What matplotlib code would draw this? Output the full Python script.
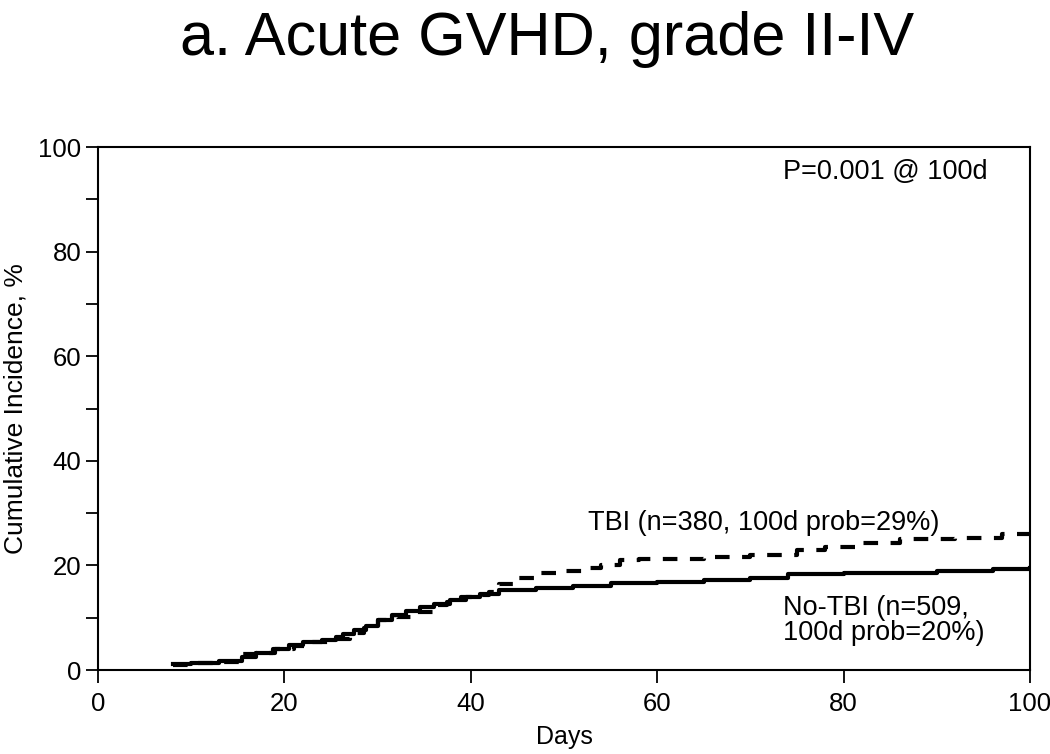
import matplotlib
matplotlib.use("Agg")
import matplotlib.pyplot as plt

plt.rcParams['font.family'] = ['Liberation Sans', 'DejaVu Sans']

# No-TBI (solid) cumulative incidence, %
notbi_days = [8, 10, 13, 15.5, 17, 18.8, 20.5, 22, 24, 25.5, 26.3, 27.5, 28.8, 30, 31.5,
              33, 34.5, 36, 37.8, 39.5, 41, 43, 47, 51, 55, 60, 65, 70, 74, 80, 90, 96, 100]
notbi_ci = [1.1, 1.4, 1.7, 2.4, 3.3, 4.0, 4.8, 5.3, 5.8, 6.3, 6.9, 7.6, 8.4, 9.6, 10.6,
            11.3, 12.0, 12.6, 13.3, 14.0, 14.6, 15.3, 15.6, 16.1, 16.6, 16.9, 17.2, 17.6, 18.3,
            18.6, 19.0, 19.3, 19.5]

# TBI (dashed)
tbi_days = [8, 10, 13, 15.5, 17, 19, 21, 23, 25, 27, 28.5, 30, 32, 34, 36, 37.5, 39, 40.5,
            42, 43, 45, 47, 50, 52, 54, 56, 58, 65, 70, 75, 78, 82, 86, 92, 97, 100]
tbi_ci = [1.0, 1.3, 1.6, 3.0, 3.3, 4.0, 4.6, 5.4, 6.0, 7.0, 8.0, 9.6, 10.2, 11.0, 12.5, 13.0,
          14.0, 14.4, 15.0, 16.5, 17.6, 18.5, 19.0, 19.5, 20.0, 21.0, 21.3, 21.6, 22.0, 23.0,
          23.5, 24.3, 25.0, 25.2, 26.0, 26.2]

fig = plt.figure(figsize=(10.5, 7.54), dpi=100)
ax = fig.add_axes([0.0933, 0.1114, 0.8877, 0.6936])

ax.plot(notbi_days, notbi_ci, color='black', lw=3.0, drawstyle='steps-post')
ax.plot(tbi_days, tbi_ci, color='black', lw=3.0, drawstyle='steps-post', dashes=(3.5, 3))

ax.set_xlim(0, 100)
ax.set_ylim(0, 100)
ax.set_xticks(range(0, 101, 20))
ax.set_yticks(range(0, 101, 20))
ax.set_yticks(range(10, 100, 20), minor=True)
ax.tick_params(axis='both', which='both', direction='out', length=9, width=1.3, labelsize=18.5)
ax.tick_params(axis='x', pad=7)
ax.tick_params(axis='y', pad=3)
for s in ax.spines.values():
    s.set_linewidth(1.5)

ax.set_xlabel('Days', fontsize=18)
ax.set_ylabel('Cumulative Incidence, %', fontsize=19)
ax.xaxis.set_label_coords(0.5, -0.106)
ax.yaxis.set_label_coords(-0.076, 0.5)

ax.text(73.5, 95.2, 'P=0.001 @ 100d', fontsize=19.5, ha='left', va='center')
ax.text(52.6, 28.1, 'TBI (n=380, 100d prob=29%)', fontsize=19.5, ha='left', va='center')
ax.text(73.5, 9.4, 'No-TBI (n=509,\n100d prob=20%)', fontsize=19.5, ha='left', va='center',
        linespacing=0.95)

fig.text(0.521, 0.947, 'a. Acute GVHD, grade II-IV', fontsize=44, ha='center', va='center')

fig.savefig('out.png', dpi=100)
